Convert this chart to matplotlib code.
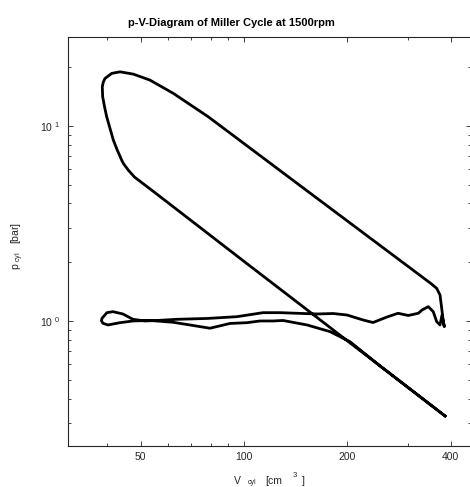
#p-V diagram of a Miller cycle, log-log
import numpy as np
import matplotlib
matplotlib.use('Agg')
from matplotlib import pyplot as plt
from matplotlib.ticker import FuncFormatter, NullFormatter

plt.rcParams['font.family'] = ['Liberation Sans', 'DejaVu Sans']
plt.rcParams['mathtext.fontset'] = 'custom'
plt.rcParams['mathtext.rm'] = 'Liberation Sans'

#cylinder volume [cm3] and pressure [bar] over one cycle
#compression BDC -> TDC
V_comp = [385, 300, 250, 200, 150, 100, 70, 55, 50, 48, 46.04, 44.53, 44.05, 42.76, 41.65, 39.84,
          39.26, 38.78, 38.68, 38.94]
p_comp = [0.326, 0.457, 0.585, 0.791, 1.168, 2.02, 3.28, 4.55, 5.17, 5.46, 5.93, 6.42, 6.67, 7.51, 8.45, 11.12,
          12.54, 14.08, 15.84, 16.74]
#combustion and expansion
V_exp = [39.39, 41.2, 43.55, 47.6, 53.25, 62.3, 78.7, 100, 150, 250, 350, 363.9, 372.1, 376.3, 380.4, 383.0]
p_exp = [17.48, 18.55, 18.9, 18.4, 17.14, 14.65, 11.12, 8.11, 4.75, 2.424, 1.556, 1.47, 1.359, 1.162, 0.992, 0.935]
#exhaust stroke
V_exh = [377.1, 372.1, 363.9, 355.6, 344.0, 329.8, 321.7, 300.8, 280.8, 260.8, 237.5, 222.0, 199.5,
         181.6, 163.2, 142.7, 127.3, 113.6, 95.4, 78.0, 63.8, 55.8, 51.5, 47.5, 44.4, 41.55, 39.9, 38.6, 38.47]
p_exh = [1.073, 0.954, 0.992, 1.116, 1.184, 1.138, 1.095, 1.067, 1.095, 1.048, 0.982, 1.012, 1.073,
         1.092, 1.086, 1.095, 1.103, 1.103, 1.052, 1.030, 1.020, 1.006, 1.0, 1.020, 1.086, 1.116, 1.103, 1.032, 1.0]
#intake stroke, early intake valve closing, then expansion to BDC
V_int = [38.86, 40.18, 43.55, 47.5, 53.25, 62.1, 69.6, 79.6, 91.0, 102.0, 111.3, 121.5, 129.9,
         152.6, 178.0, 203.5, 250, 300, 385]
p_int = [0.973, 0.954, 0.980, 1.0, 1.006, 0.985, 0.954, 0.918, 0.971, 0.980, 1.0, 1.0, 1.006,
         0.954, 0.882, 0.783, 0.585, 0.457, 0.326]

V_cyl = V_comp + V_exp + V_exh + V_int
p_cyl = p_comp + p_exp + p_exh + p_int

x_major = [50, 100, 200, 400]
x_minor = [40, 60, 70, 80, 90, 300]

grey = '#262626'
fig = plt.figure(figsize=(4.7, 4.87), dpi=100)
ax = fig.add_axes([68.3/470, 1-446.3/487, 402.7/470, 409/487])
ax.plot(V_cyl, p_cyl, c='black', lw=2.0, solid_joinstyle='round')
ax.set_xscale('log')
ax.set_yscale('log')
ax.set_xlim(30.8, 458)
ax.set_ylim(0.228, 28.4)

ax.set_xticks(x_major)
ax.set_xticklabels([str(v) for v in x_major])
ax.set_xticks(x_minor, minor=True)
ax.xaxis.set_minor_formatter(NullFormatter())
ax.yaxis.set_major_formatter(FuncFormatter(lambda v, _: r'$\mathregular{10^{\ %d}}$' % round(np.log10(v))))
ax.yaxis.set_minor_formatter(NullFormatter())

ax.tick_params(which='both', direction='in', top=True, right=True, colors=grey,
               labelsize=7.5, width=0.6)
ax.tick_params(which='major', length=3.5)
ax.tick_params(which='minor', length=2)
ax.tick_params(axis='x', pad=4)
ax.tick_params(axis='y', pad=6)
for s in ax.spines.values():
    s.set_color(grey)
    s.set_linewidth(0.8)

fig.text(231/470, 1-23/487, 'p-V-Diagram of Miller Cycle at 1500rpm', ha='center', va='center',
         fontsize=8, fontweight='bold')
fig.text(18/470, 1-246/487, r'$\mathregular{p_{\ cyl}}$   [bar]', rotation=90, ha='center', va='center',
         fontsize=7.5, color=grey)
#x label: MATLAB-like layout with a low, small subscript
fig.text(237.5/470, 1-484/487, 'V', ha='center', va='baseline', fontsize=7.5, color=grey)
fig.text(248/470, 1-484.5/487, 'cyl', ha='left', va='baseline', fontsize=5, color=grey)
fig.text(265/470, 1-484/487, '[cm', ha='left', va='baseline', fontsize=7.5, color=grey)
fig.text(293/470, 1-477/487, '3', ha='left', va='baseline', fontsize=5.5, color=grey)
fig.text(302/470, 1-484/487, ']', ha='left', va='baseline', fontsize=7.5, color=grey)

fig.savefig('out.png', dpi=100)
